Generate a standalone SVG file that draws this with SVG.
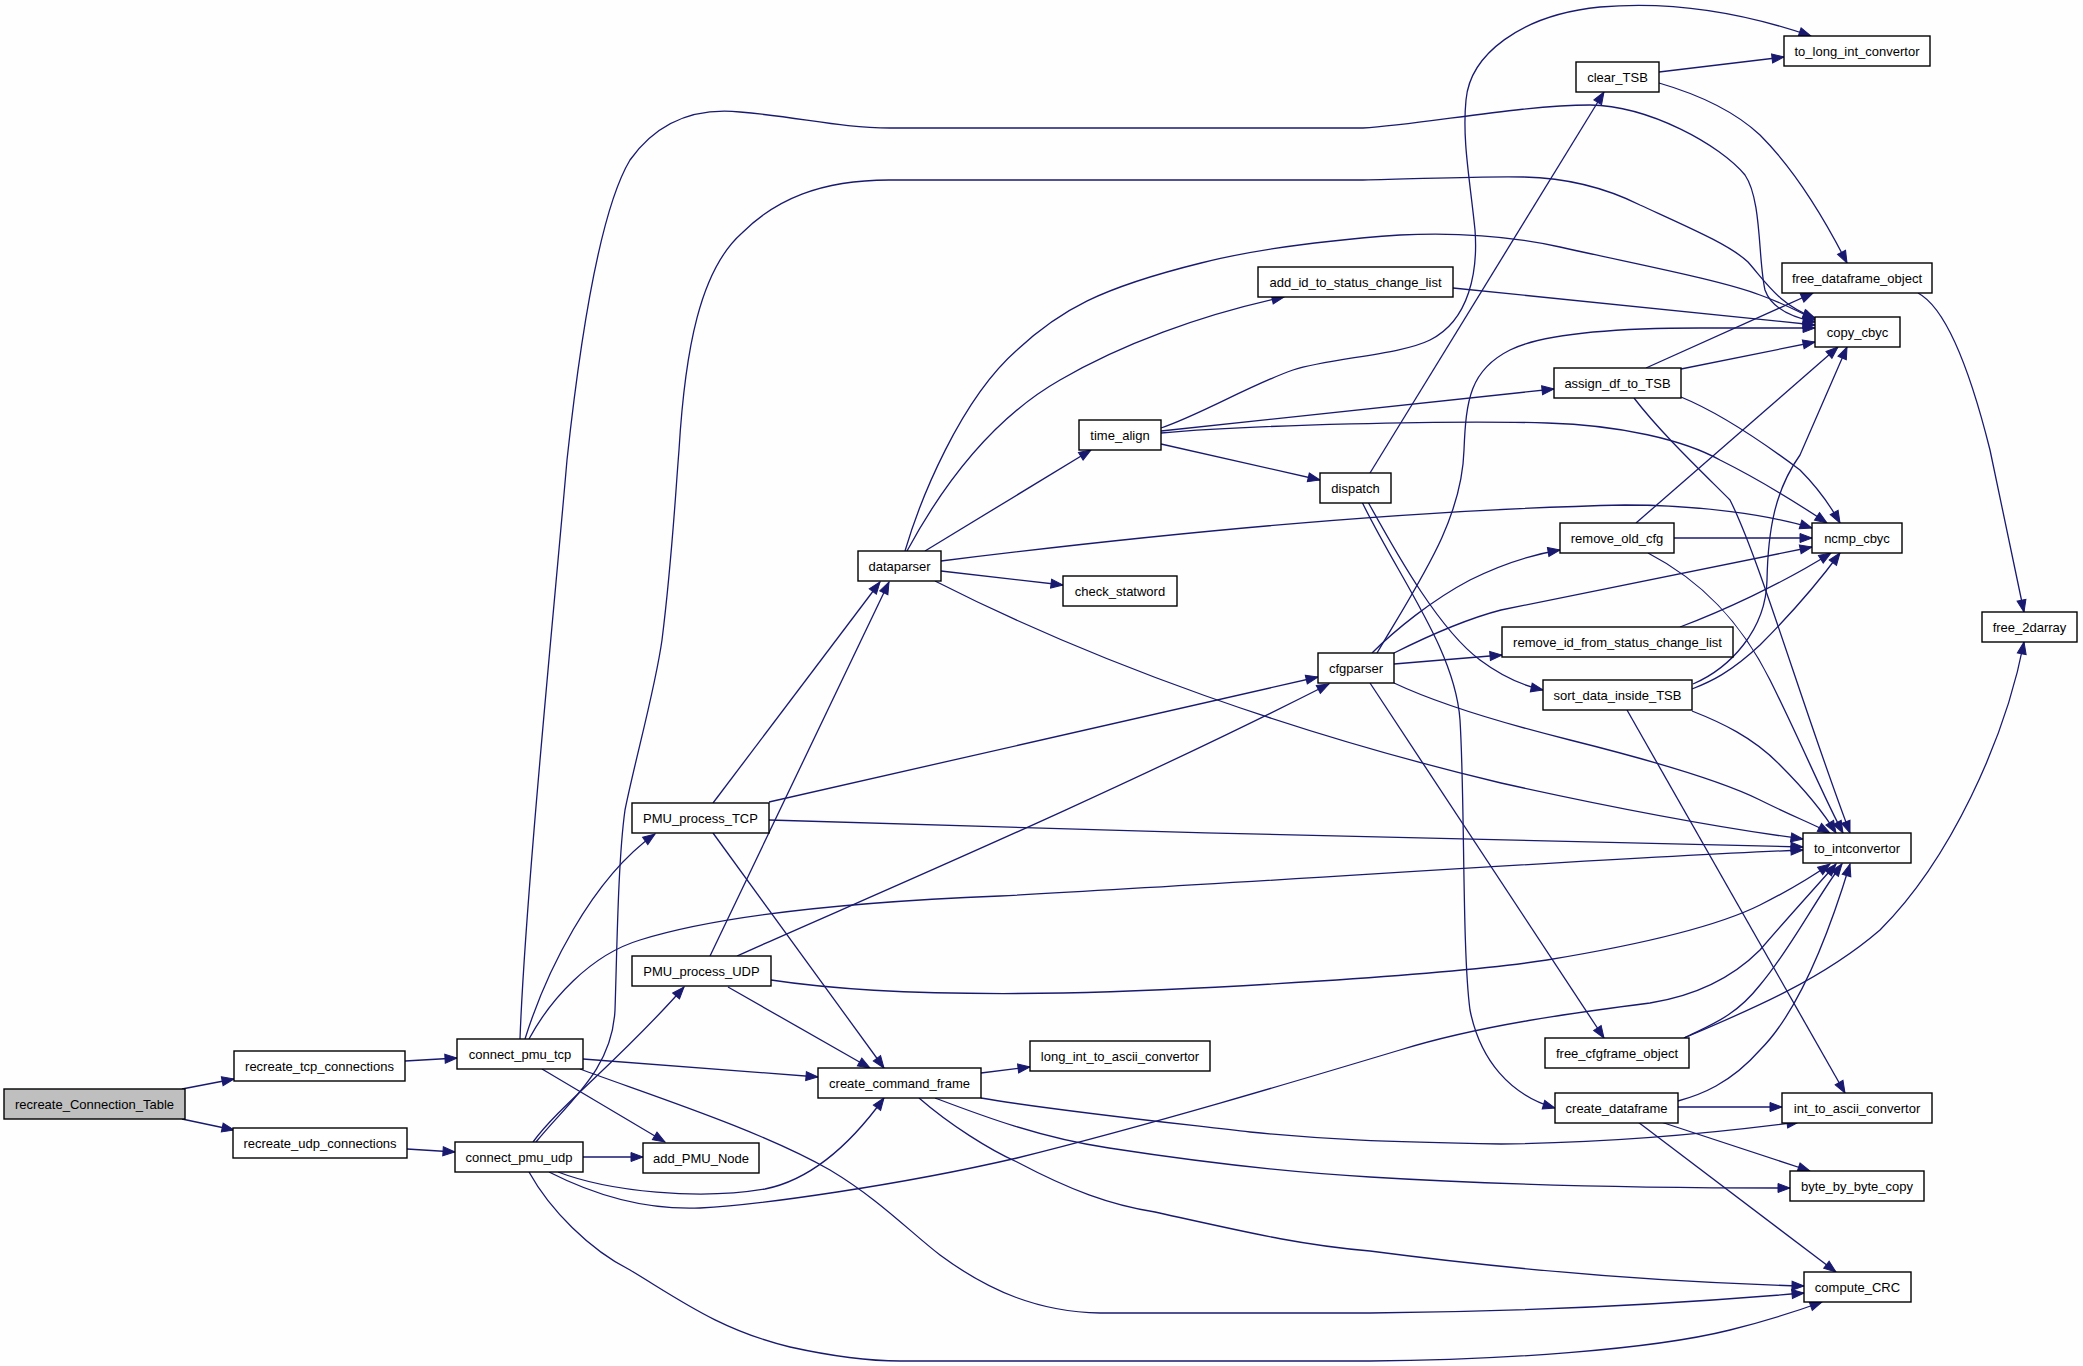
<svg xmlns="http://www.w3.org/2000/svg" width="2083" height="1366" viewBox="0 0 2083 1366">
<style>
.node rect{fill:#ffffff;stroke:#000000;stroke-width:1.4}
.node.root rect{fill:#bfbfbf}
.node text{font-family:"Liberation Sans",Arial,sans-serif;font-size:13px;fill:#000000;text-anchor:middle}
.edges path{fill:none;stroke:#191970;stroke-width:1.3;marker-end:url(#arr)}
</style>
<defs>
<marker id="arr" markerWidth="13" markerHeight="10" refX="12" refY="4.5" orient="auto" markerUnits="userSpaceOnUse" overflow="visible">
<path d="M0,0 L12,4.5 L0,9 z" fill="#191970" stroke="#191970" stroke-width="1"/>
</marker>
</defs>
<rect x="0" y="0" width="2083" height="1366" fill="#fdfefd"/>
<g class="edges" id="edges">
<path d="M182,1089 L234,1079"/>
<path d="M182,1119 L234,1130"/>
<path d="M405,1061 L457,1058"/>
<path d="M407,1149 L455,1152"/>
<path d="M525,1039 C545,975 590,880 655,834"/>
<path d="M520,1039 C525,900 555,600 567,460 C580,340 600,210 630,160 C660,118 700,108 740,112 C800,117 840,128 890,128 L1363,128 C1420,125 1520,105 1590,105 C1650,106 1720,145 1745,175 C1762,200 1758,260 1765,290 C1772,310 1795,318 1815,322"/>
<path d="M536,1142 C570,1100 612,1070 615,1010 C617,950 618,860 625,810 C635,760 655,690 662,640 C672,560 675,500 679,450 C685,350 700,270 742,233 C775,200 820,180 889,180 L1363,180 C1420,179 1480,176 1524,177 C1570,178 1610,190 1640,205 C1690,228 1730,245 1748,262 C1768,285 1780,305 1815,318"/>
<path d="M529,1039 C550,1000 590,955 640,940 C720,915 850,902 1000,896 C1300,880 1600,858 1803,850"/>
<path d="M583,1059 L818,1077"/>
<path d="M542,1069 L665,1142"/>
<path d="M580,1069 C650,1095 760,1130 830,1170 C880,1200 910,1232 940,1255 C990,1292 1040,1312 1100,1313 L1370,1313 C1500,1312 1650,1306 1804,1293"/>
<path d="M533,1142 C560,1105 620,1060 684,987"/>
<path d="M583,1157 L643,1157"/>
<path d="M558,1172 C610,1192 700,1200 765,1189 C810,1180 850,1145 884,1098"/>
<path d="M549,1172 C600,1198 650,1210 700,1208 C760,1205 900,1185 1017,1158 C1150,1125 1300,1080 1400,1050 C1480,1025 1580,1012 1650,1003 C1700,995 1735,975 1760,950 C1790,915 1815,888 1836,864"/>
<path d="M529,1172 C550,1210 590,1250 630,1270 C680,1300 720,1330 790,1347 C840,1358 870,1361 900,1361 L1370,1361 C1500,1360 1650,1350 1730,1330 C1770,1320 1800,1310 1822,1302"/>
<path d="M713,803 L880,582"/>
<path d="M769,802 L1318,677"/>
<path d="M769,820 C1100,830 1500,842 1803,847"/>
<path d="M713,833 L884,1068"/>
<path d="M710,956 L889,582"/>
<path d="M737,956 C850,905 1100,800 1329,684"/>
<path d="M728,987 L870,1068"/>
<path d="M771,980 C850,992 950,995 1063,993 C1200,990 1450,975 1547,960 C1650,943 1720,925 1760,905 C1790,890 1810,878 1830,864"/>
<path d="M981,1073 L1030,1067"/>
<path d="M981,1098 C1050,1110 1155,1121 1250,1132 C1320,1139 1380,1142 1501,1144 C1600,1143 1700,1135 1799,1122"/>
<path d="M935,1098 C980,1115 1040,1138 1109,1148 C1200,1162 1300,1173 1370,1177 C1500,1185 1650,1188 1790,1188"/>
<path d="M919,1098 C950,1125 990,1150 1017,1162 C1070,1190 1110,1205 1155,1212 C1250,1233 1300,1245 1370,1251 C1500,1268 1650,1282 1804,1286"/>
<path d="M925,551 L1091,450"/>
<path d="M907,551 C940,490 990,420 1060,380 C1120,345 1200,315 1284,297"/>
<path d="M905,551 C920,500 960,400 1017,350 C1060,310 1100,288 1201,263 C1260,248 1330,240 1400,235 C1460,232 1510,236 1560,247 C1640,265 1720,280 1760,295 C1785,304 1800,312 1815,320"/>
<path d="M941,571 L1063,585"/>
<path d="M941,561 C1150,535 1400,510 1625,505 C1700,505 1770,515 1812,528"/>
<path d="M935,581 C1100,665 1300,735 1501,783 C1600,805 1700,825 1803,839"/>
<path d="M1161,428 C1200,415 1250,385 1293,370 C1330,358 1400,355 1430,340 C1470,320 1478,270 1475,230 C1470,180 1462,140 1466,100 C1470,55 1520,15 1600,7 C1680,0 1750,15 1811,36"/>
<path d="M1161,431 L1554,389"/>
<path d="M1161,433 C1250,425 1450,420 1547,423 C1620,425 1684,440 1720,460 C1760,480 1800,505 1827,523"/>
<path d="M1161,444 L1320,480"/>
<path d="M1453,288 L1815,325"/>
<path d="M1370,473 L1604,92"/>
<path d="M1368,502 C1400,560 1440,630 1480,660 C1500,675 1520,685 1543,690"/>
<path d="M1362,502 C1400,580 1455,650 1460,720 C1465,800 1462,950 1470,1010 C1480,1060 1510,1095 1555,1108"/>
<path d="M1377,653 C1420,580 1462,520 1464,450 C1466,400 1470,370 1510,350 C1540,335 1600,328 1700,328 L1815,328"/>
<path d="M1372,653 C1395,630 1432,600 1470,580 C1500,565 1530,555 1560,550"/>
<path d="M1394,653 C1430,635 1470,618 1501,610 L1812,547"/>
<path d="M1394,664 L1502,655"/>
<path d="M1394,683 C1430,700 1478,717 1570,740 C1650,760 1720,780 1760,800 C1790,815 1815,825 1830,833"/>
<path d="M1370,683 L1604,1038"/>
<path d="M1659,72 L1784,57"/>
<path d="M1659,83 C1690,92 1730,107 1760,135 C1790,165 1820,210 1847,263"/>
<path d="M1918,293 C1950,310 1975,390 1990,450 C2005,520 2015,570 2024,612"/>
<path d="M1646,368 L1813,293"/>
<path d="M1681,369 L1815,342"/>
<path d="M1681,397 C1720,413 1760,440 1800,470 C1815,485 1830,505 1840,523"/>
<path d="M1634,398 C1660,432 1700,470 1730,500 C1760,560 1800,700 1850,833"/>
<path d="M1636,523 L1838,347"/>
<path d="M1674,538 L1812,538"/>
<path d="M1648,553 C1700,580 1740,620 1770,680 C1800,740 1825,800 1843,833"/>
<path d="M1680,627 C1720,612 1780,585 1831,553"/>
<path d="M1693,684 C1730,668 1766,630 1767,580 C1768,530 1775,490 1800,455 L1847,347"/>
<path d="M1692,689 C1710,682 1730,673 1760,645 C1790,615 1820,580 1840,553"/>
<path d="M1692,711 C1720,722 1753,737 1780,765 C1805,790 1825,815 1836,833"/>
<path d="M1627,710 L1845,1093"/>
<path d="M1684,1038 C1750,1010 1822,980 1880,930 C1950,860 2005,740 2024,642"/>
<path d="M1684,1038 C1710,1025 1735,1017 1760,985 C1790,950 1815,900 1842,864"/>
<path d="M1678,1101 C1700,1095 1730,1084 1760,1050 C1800,1010 1830,930 1850,864"/>
<path d="M1678,1107 L1782,1107"/>
<path d="M1661,1122 L1810,1171"/>
<path d="M1638,1122 L1836,1272"/>
</g>
<g id="n_recreate_Connection_Table" class="node root"><rect x="4" y="1089" width="181" height="30"/><text x="94.5" y="1108.5">recreate_Connection_Table</text></g>
<g id="n_recreate_tcp_connections" class="node"><rect x="234" y="1051" width="171" height="30"/><text x="319.5" y="1070.5">recreate_tcp_connections</text></g>
<g id="n_recreate_udp_connections" class="node"><rect x="233" y="1128" width="174" height="30"/><text x="320" y="1147.5">recreate_udp_connections</text></g>
<g id="n_connect_pmu_tcp" class="node"><rect x="457" y="1039" width="126" height="30"/><text x="520" y="1058.5">connect_pmu_tcp</text></g>
<g id="n_connect_pmu_udp" class="node"><rect x="455" y="1142" width="128" height="30"/><text x="519" y="1161.5">connect_pmu_udp</text></g>
<g id="n_add_PMU_Node" class="node"><rect x="643" y="1143" width="116" height="30"/><text x="701" y="1162.5">add_PMU_Node</text></g>
<g id="n_PMU_process_TCP" class="node"><rect x="632" y="803" width="137" height="30"/><text x="700.5" y="822.5">PMU_process_TCP</text></g>
<g id="n_PMU_process_UDP" class="node"><rect x="632" y="956" width="139" height="30"/><text x="701.5" y="975.5">PMU_process_UDP</text></g>
<g id="n_create_command_frame" class="node"><rect x="818" y="1068" width="163" height="30"/><text x="899.5" y="1087.5">create_command_frame</text></g>
<g id="n_long_int_to_ascii_convertor" class="node"><rect x="1030" y="1041" width="180" height="30"/><text x="1120" y="1060.5">long_int_to_ascii_convertor</text></g>
<g id="n_dataparser" class="node"><rect x="858" y="551" width="83" height="30"/><text x="899.5" y="570.5">dataparser</text></g>
<g id="n_check_statword" class="node"><rect x="1063" y="576" width="114" height="30"/><text x="1120" y="595.5">check_statword</text></g>
<g id="n_time_align" class="node"><rect x="1079" y="420" width="82" height="30"/><text x="1120" y="439.5">time_align</text></g>
<g id="n_add_id_to_status_change_list" class="node"><rect x="1258" y="267" width="195" height="30"/><text x="1355.5" y="286.5">add_id_to_status_change_list</text></g>
<g id="n_dispatch" class="node"><rect x="1320" y="473" width="71" height="30"/><text x="1355.5" y="492.5">dispatch</text></g>
<g id="n_cfgparser" class="node"><rect x="1318" y="653" width="76" height="30"/><text x="1356" y="672.5">cfgparser</text></g>
<g id="n_clear_TSB" class="node"><rect x="1576" y="62" width="83" height="30"/><text x="1617.5" y="81.5">clear_TSB</text></g>
<g id="n_to_long_int_convertor" class="node"><rect x="1784" y="36" width="146" height="30"/><text x="1857" y="55.5">to_long_int_convertor</text></g>
<g id="n_free_dataframe_object" class="node"><rect x="1782" y="263" width="150" height="30"/><text x="1857" y="282.5">free_dataframe_object</text></g>
<g id="n_copy_cbyc" class="node"><rect x="1815" y="317" width="85" height="30"/><text x="1857.5" y="336.5">copy_cbyc</text></g>
<g id="n_assign_df_to_TSB" class="node"><rect x="1554" y="368" width="127" height="30"/><text x="1617.5" y="387.5">assign_df_to_TSB</text></g>
<g id="n_remove_old_cfg" class="node"><rect x="1560" y="523" width="114" height="30"/><text x="1617" y="542.5">remove_old_cfg</text></g>
<g id="n_ncmp_cbyc" class="node"><rect x="1812" y="523" width="90" height="30"/><text x="1857" y="542.5">ncmp_cbyc</text></g>
<g id="n_remove_id_from_status_change_list" class="node"><rect x="1502" y="627" width="231" height="30"/><text x="1617.5" y="646.5">remove_id_from_status_change_list</text></g>
<g id="n_sort_data_inside_TSB" class="node"><rect x="1543" y="680" width="149" height="30"/><text x="1617.5" y="699.5">sort_data_inside_TSB</text></g>
<g id="n_free_2darray" class="node"><rect x="1982" y="612" width="95" height="30"/><text x="2029.5" y="631.5">free_2darray</text></g>
<g id="n_to_intconvertor" class="node"><rect x="1803" y="833" width="108" height="30"/><text x="1857" y="852.5">to_intconvertor</text></g>
<g id="n_free_cfgframe_object" class="node"><rect x="1545" y="1038" width="144" height="30"/><text x="1617" y="1057.5">free_cfgframe_object</text></g>
<g id="n_create_dataframe" class="node"><rect x="1555" y="1093" width="123" height="30"/><text x="1616.5" y="1112.5">create_dataframe</text></g>
<g id="n_int_to_ascii_convertor" class="node"><rect x="1782" y="1093" width="150" height="30"/><text x="1857" y="1112.5">int_to_ascii_convertor</text></g>
<g id="n_byte_by_byte_copy" class="node"><rect x="1790" y="1171" width="134" height="30"/><text x="1857" y="1190.5">byte_by_byte_copy</text></g>
<g id="n_compute_CRC" class="node"><rect x="1804" y="1272" width="107" height="30"/><text x="1857.5" y="1291.5">compute_CRC</text></g>
</svg>
